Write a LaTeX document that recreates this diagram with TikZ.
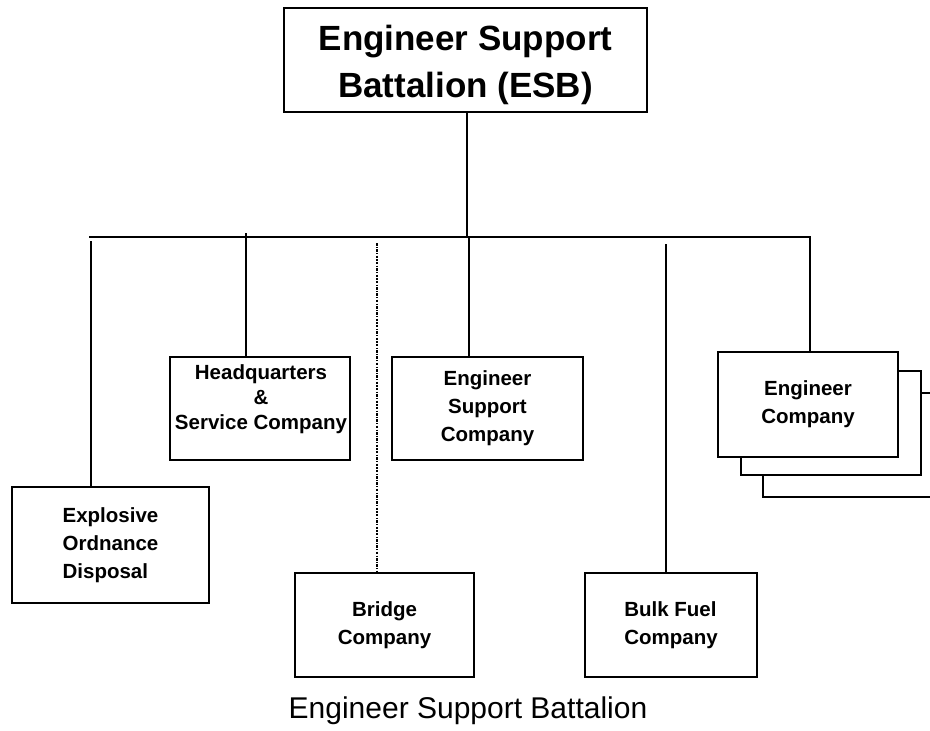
\documentclass[tikz,border=0pt]{standalone}
\usepackage{fontspec}
\setmainfont{Liberation Sans}
\begin{document}
\begin{tikzpicture}[x=1pt,y=-1pt,
  box/.style={draw=black, line width=1.3pt, fill=white, inner sep=0pt, font=\bfseries\fontsize{20.5}{28}\selectfont, align=center},
  lbl/.style={inner sep=0pt, font=\bfseries\fontsize{20.5}{25}\selectfont, align=center},
  backbox/.style={draw=black, line width=1.3pt, fill=white},
  conn/.style={draw=black, line width=1.3pt},
  dotconn/.style={draw=black, line width=1.3pt, dash pattern=on 2.5pt off 1.3pt on 1.2pt off 1.3pt}]
\clip (0,0) rectangle (930,731);
\fill[white] (0,0) rectangle (930,731);

% top box
\node[box, minimum width=363pt, minimum height=104pt] (esb) at (465.5,60) {};
\node[lbl, font=\bfseries\fontsize{35}{47}\selectfont] (esbt) at (465.5,65) {Engineer Support\\Battalion (ESB)};

% subordinate boxes
\node[box, minimum width=180pt, minimum height=103pt] (hq) at (260,408.5) {};
\node[lbl] (hqt) at (261,399) {Headquarters\\\&\\Service Company};
\node[box, minimum width=191pt, minimum height=103pt] (esc) at (487.5,408.5) {Engineer\\Support\\Company};
\node[box, minimum width=197pt, minimum height=116pt, align=left] (eod) at (110.5,545) {Explosive\\Ordnance\\Disposal};
\node[box, minimum width=179pt, minimum height=104pt] (br) at (384.5,625) {Bridge\\Company};
\node[box, minimum width=172pt, minimum height=104pt, align=left] (bf) at (671,625) {Bulk Fuel\\Company};

% engineer company stack
\draw[backbox] (763,393) rectangle (945,497);
\draw[backbox] (741,371) rectangle (921,475);
\node[box, minimum width=180pt, minimum height=105pt] (eng) at (808,404.5) {Engineer\\Company};

% connectors
\coordinate (j) at (467,237);
\coordinate (busL) at (89,237);
\coordinate (busR) at (810,237);
\coordinate (eodT) at (91,241);
\coordinate (hqT) at (246,233);
\coordinate (brT) at (377,243);
\coordinate (escT) at (469,237);
\coordinate (bfT) at (666,244);

\draw[conn] (esb.south -| j) -- (j);
\draw[conn] (busL) -- (busR) -- (busR |- eng.north);
\draw[conn] (eodT) -- (eodT |- eod.north);
\draw[conn] (hqT) -- (hqT |- hq.north);
\draw[dotconn] (brT) -- (brT |- br.north);
\draw[conn] (escT) -- (escT |- esc.north);
\draw[conn] (bfT) -- (bfT |- bf.north);

% caption
\node[inner sep=0pt, font=\fontsize{30}{36}\selectfont] (cap) at (468,711) {Engineer Support Battalion};
\end{tikzpicture}
\end{document}
